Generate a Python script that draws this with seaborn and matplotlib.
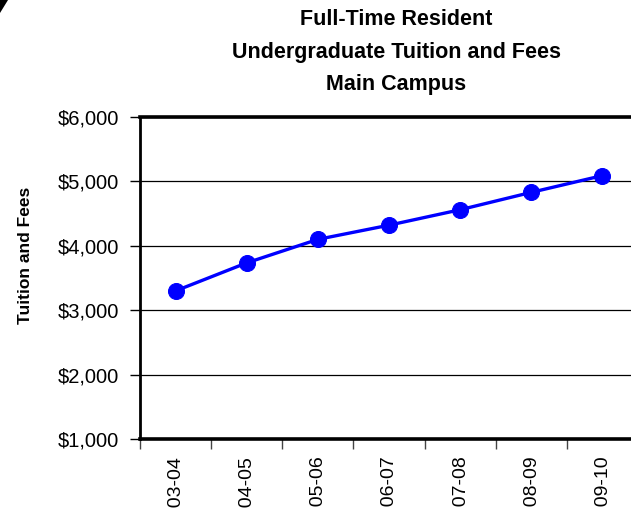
"""
Full-time resident undergraduate tuition and fees, main campus
"""

import pandas as pd
import matplotlib
matplotlib.use("Agg")
import matplotlib.pyplot as plt
from matplotlib.patches import Polygon
from matplotlib.ticker import FuncFormatter, MultipleLocator
import seaborn as sns

# values
years = ["2003-04", "2004-05", "2005-06", "2006-07", "2007-08", "2008-09", "2009-10"]
tuition = [3300, 3735, 4100, 4320, 4560, 4830, 5090]

df = pd.DataFrame({"Year": years, "Tuition": tuition})
df["pos"] = range(len(df))

sns.set_style("white")
plt.rcParams["font.family"] = ["Liberation Sans", "DejaVu Sans"]
plt.rcParams["text.color"] = "black"
plt.rcParams["xtick.color"] = "black"
plt.rcParams["ytick.color"] = "black"

fig = plt.figure(figsize=(6.31, 5.08), dpi=100)
# the chart runs a little past the right edge in the reference
ax = fig.add_axes([140 / 631, 1 - 439 / 508, 498 / 631, 322 / 508])

sns.lineplot(data=df, x="pos", y="Tuition", ax=ax, color="#0000FF",
             linewidth=2.4, marker="o", markersize=11.5,
             markeredgecolor="#0000FF", zorder=3)

ax.set_ylim(1000, 6000)
ax.set_xlim(-0.5, len(years) - 0.5)
ax.yaxis.set_major_locator(MultipleLocator(1000))
ax.yaxis.set_major_formatter(FuncFormatter(lambda v, p: "${:,.0f}".format(v)))
ax.grid(axis="y", color="black", linewidth=0.9)
ax.set_axisbelow(True)

ax.set_xticks(df["pos"])
ax.set_xticklabels(years, rotation=90, va="top", ha="center")
ax.set_xticks([i - 0.5 for i in range(len(years) + 1)], minor=True)
ax.tick_params(axis="x", which="major", length=0, pad=12, labelsize=14,
               labelcolor="black")
ax.tick_params(axis="x", which="minor", direction="out", length=7,
               width=1, color="#444444", bottom=True)
ax.tick_params(axis="y", direction="out", length=7, width=1, left=True,
               labelsize=14.5, labelcolor="black", pad=8)

ax.set_xlabel("")
ax.set_ylabel("")

for side, lw in [("left", 2), ("bottom", 2.6), ("top", 2.6)]:
    ax.spines[side].set_visible(True)
    ax.spines[side].set_color("black")
    ax.spines[side].set_linewidth(lw)
ax.spines["right"].set_visible(False)

fig.text(396 / 631, 1 - 9 / 508,
         "Full-Time Resident\nUndergraduate Tuition and Fees\nMain Campus",
         ha="center", va="top", fontsize=15.5, fontweight="bold",
         linespacing=1.72, color="black")
fig.text(26 / 631, 1 - 255 / 508, "Tuition and Fees", rotation=90,
         ha="center", va="center", fontsize=12.5, fontweight="bold",
         color="black")

# dark corner shape in the top-left of the reference
fig.patches.append(Polygon([(0, 1), (8 / 631, 1), (0, 1 - 13 / 508)],
                           closed=True, transform=fig.transFigure,
                           facecolor="black", edgecolor="none"))

fig.savefig("out.png", dpi=100)
